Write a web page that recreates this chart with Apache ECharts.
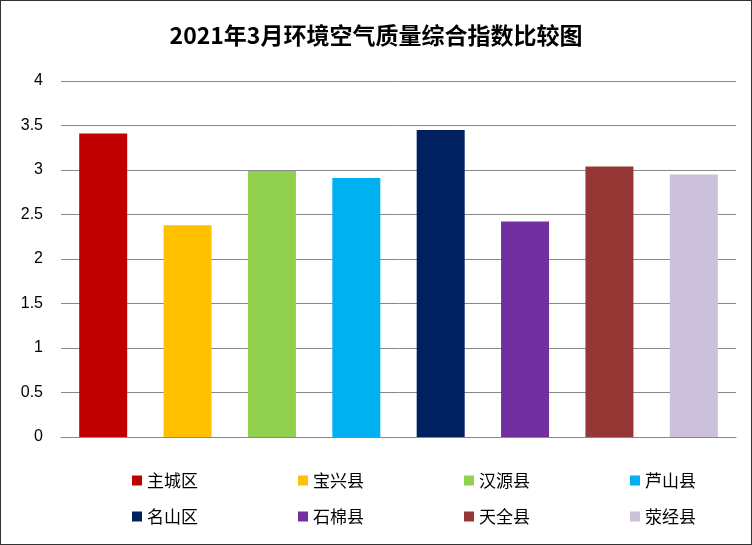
<!DOCTYPE html>
<html><head><meta charset="utf-8">
<script src="https://cdn.jsdelivr.net/npm/echarts@6/dist/echarts.min.js"></script>
<style>html,body{margin:0;padding:0;}#c{width:750px;height:543px;border:1px solid #333;}</style>
</head><body><div id="c"></div>
<script>
var categories=['主城区','宝兴县','汉源县','芦山县','名山区','石棉县','天全县','荥经县'];
var values=[3.41,2.38,2.99,2.91,3.45,2.42,3.04,2.95];
var colors=['#C00000','#FFC000','#92D050','#00B0F0','#002060','#7030A0','#953735','#CCC1DA'];
var yTicks=[0,0.5,1,1.5,2,2.5,3,3.5,4];
var chart=echarts.init(document.getElementById('c'));
var series=categories.map(function(c,i){
  var d=categories.map(function(_,j){return j===i?values[i]:null;});
  return {name:c,type:'bar',stack:'s',data:d,barWidth:48,itemStyle:{color:colors[i]}};
});
var legends=categories.map(function(c,i){
  return {data:[c],left:126+(i%4)*166,top:i<4?466:502,itemWidth:10,itemHeight:10,icon:'rect',
    textStyle:{fontSize:17,color:'#000',fontFamily:'Noto Sans CJK SC'},selectedMode:false};
});
chart.setOption({
  animation:false,
  title:{text:'2021年3月环境空气质量综合指数比较图',left:'center',top:18,
    textStyle:{fontSize:23,fontWeight:'bold',color:'#000',fontFamily:'Noto Sans CJK SC'}},
  legend:legends,
  grid:{left:60,right:15,top:80,bottom:107},
  xAxis:{type:'category',data:categories,axisLabel:{show:false},axisTick:{show:false},
    axisLine:{lineStyle:{color:'#888'}}},
  yAxis:{type:'value',min:0,max:4,interval:0.5,
    axisLabel:{fontSize:16,color:'#000',margin:18,formatter:function(v){return yTicks.indexOf(v)>=0?String(v):'';}},
    splitLine:{lineStyle:{color:'#888'}},axisLine:{show:false}},
  series:series
});
</script></body></html>
